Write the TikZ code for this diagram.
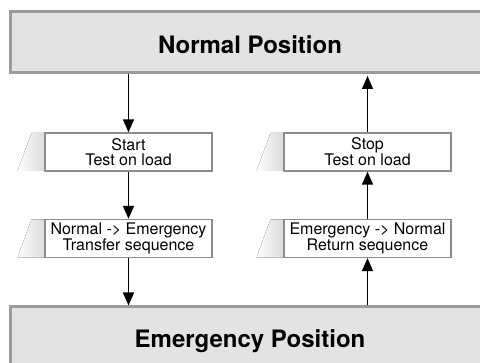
\documentclass[tikz,border=0pt]{standalone}
\usepackage{fontspec}
\setmainfont{TeX Gyre Heros}
\usetikzlibrary{arrows.meta}
\definecolor{panelfill}{HTML}{E3E3E3}
\definecolor{panelline}{HTML}{9C9C9C}
\definecolor{stepline}{HTML}{8C8C8C}
\definecolor{shadowgray}{HTML}{D8D8D8}
\begin{document}
\begin{tikzpicture}[x=1pt,y=-1pt,
  panel/.style={draw=panelline,fill=panelfill,line width=3pt,
    minimum width=480pt,inner sep=0pt,
    font=\fontsize{24}{26}\selectfont\bfseries},
  stepbox/.style={draw=stepline,fill=white,line width=1.3pt,
    minimum width=167pt,minimum height=38pt,inner sep=0pt,align=center,
    font=\fontsize{16}{15}\selectfont},
  arr/.style={draw=black,line width=1.4pt,-{Triangle[width=11pt,length=13pt]}}]
\useasboundingbox (0,0) rectangle (480,363);

% the two position panels
\node[panel,minimum height=61pt,text height=23pt,text depth=0pt] (normal) at (250,42.5) {Normal Position};
\node[panel,minimum height=63pt,text height=19pt,text depth=0pt] (emerg) at (250,338.5) {Emergency Position};

% faded shadows to the left of each step box
\foreach \cx/\cy in {128.5/152, 128.5/238.5, 367.5/152, 367.5/238.5}{
  \fill[left color=white,right color=shadowgray]
    (\cx-97,\cy-19) -- (\cx-82.5,\cy-19) -- (\cx-82.5,\cy+19) -- (\cx-111,\cy+19) -- cycle;
}

% step boxes
\node[stepbox] (start) at (128.5,152) {Start\\Test on load};
\node[stepbox] (transfer) at (128.5,238.5) {Normal -> Emergency\\Transfer sequence};
\node[stepbox] (stop) at (367.5,152) {Stop\\Test on load};
\node[stepbox] (return) at (367.5,238.5) {Emergency -> Normal\\Return sequence};

% transfer path (down)
\draw[arr] (normal.south -| start) -- (start.north);
\draw[arr] (start.south) -- (transfer.north);
\draw[arr] (transfer.south) -- (emerg.north -| transfer);

% return path (up)
\draw[arr] (emerg.north -| return) -- (return.south);
\draw[arr] (return.north) -- (stop.south);
\draw[arr] (stop.north) -- ([yshift=-1.5pt]normal.south -| stop);
\end{tikzpicture}
\end{document}
